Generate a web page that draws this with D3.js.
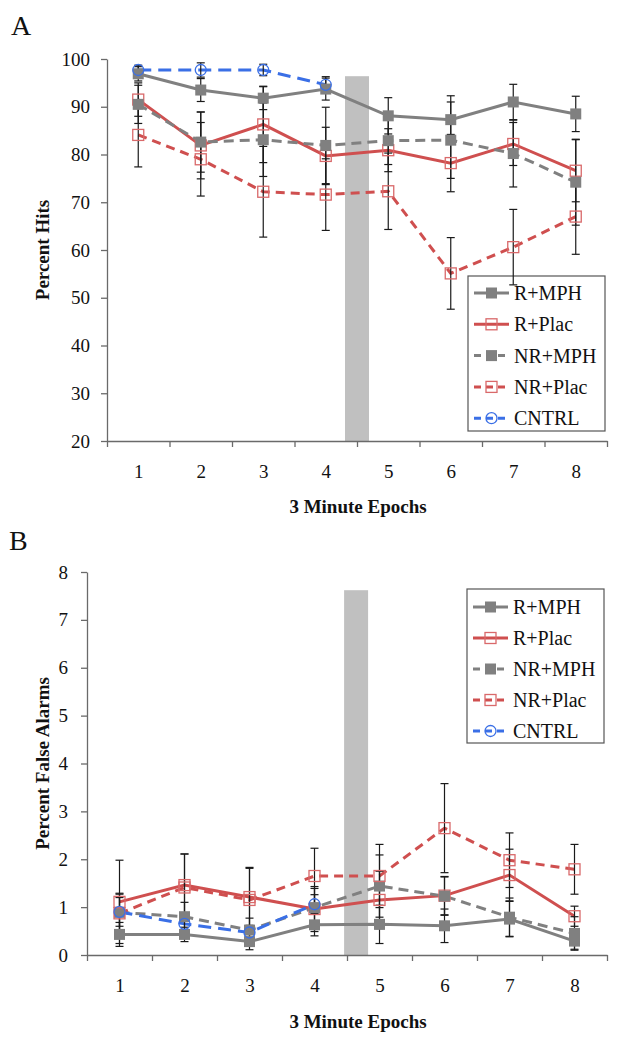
<!DOCTYPE html>
<html><head><meta charset="utf-8">
<script src="https://cdn.jsdelivr.net/npm/d3@7"></script>
<style>
body{margin:0;background:#fff}
text{font-family:"Liberation Serif","Times New Roman",serif;fill:#111}
</style>
</head><body>
<svg id="chart" width="623" height="1049" font-family="Liberation Serif"></svg>
<script>
// ---------- data ----------
const epochs = [1, 2, 3, 4, 5, 6, 7, 8];
const seriesNames = ["R+MPH", "R+Plac", "NR+MPH", "NR+Plac", "CNTRL"];
const hitsTicks = [20, 30, 40, 50, 60, 70, 80, 90, 100];
const faTicks = [0, 1, 2, 3, 4, 5, 6, 7, 8];

// Panel A: Percent Hits
const hitsRMPH     = [96.9, 93.5, 91.8, 93.7, 88.1, 87.3, 91.0, 88.5];
const hitsRMPHErr  = [1.5, 2.4, 2.4, 2.3, 3.8, 5.0, 3.7, 3.7];
const hitsRPlac    = [91.5, 81.9, 86.3, 79.7, 80.9, 78.2, 82.2, 76.6];
const hitsRPlacErr = [3.5, 7.0, 8.0, 6.0, 4.5, 6.0, 4.5, 6.5];
const hitsNRMPH    = [90.5, 82.6, 83.1, 81.9, 82.9, 83.0, 80.2, 74.2];
const hitsNRMPHErr = [4.0, 6.3, 7.7, 8.0, 5.0, 8.0, 7.0, 9.0];
const hitsNRPlac   = [84.1, 79.0, 72.2, 71.6, 72.3, 55.1, 60.6, 67.0];
const hitsNRPlacErr= [6.7, 7.7, 9.5, 7.5, 8.0, 7.5, 7.9, 7.9];
const hitsCNTRL    = [97.7, 97.7, 97.7, 94.6];
const hitsCNTRLErr = [1.0, 1.5, 1.2, 1.7];
const hitsBreak = {pos: 4.5, top: 96.4};

// Panel B: Percent False Alarms
const faRMPH     = [0.43, 0.43, 0.28, 0.63, 0.64, 0.61, 0.75, 0.29];
const faRMPHErr  = [0.25, 0.15, 0.17, 0.23, 0.40, 0.35, 0.37, 0.17];
const faRPlac    = [1.11, 1.46, 1.21, 0.96, 1.15, 1.24, 1.67, 0.81];
const faRPlacErr = [0.87, 0.65, 0.60, 0.47, 0.60, 0.40, 0.54, 0.21];
const faNRMPH    = [0.89, 0.80, 0.52, 0.99, 1.44, 1.23, 0.79, 0.45];
const faNRMPHErr = [0.40, 0.30, 0.25, 0.40, 0.65, 0.40, 0.40, 0.35];
const faNRPlac   = [0.87, 1.41, 1.15, 1.65, 1.65, 2.65, 1.98, 1.79];
const faNRPlacErr= [0.40, 0.70, 0.68, 0.58, 0.66, 0.93, 0.57, 0.52];
const faCNTRL    = [0.90, 0.65, 0.47, 1.06];
const faCNTRLErr = [0.30, 0.15, 0.15, 0.20];
const faBreak = {pos: 4.64, top: 7.62};

// ---------- styles ----------
const GRAY = "#808080", RED = "#cf4f4f", REDM = "#d9696a", BLUE = "#3a6fe6";
const FONT = "Liberation Serif";
const styles = {
  "R+MPH":   {color: GRAY, dash: null,   marker: "filled", mcolor: GRAY},
  "R+Plac":  {color: RED,  dash: null,   marker: "open",   mcolor: REDM},
  "NR+MPH":  {color: GRAY, dash: "10,6", marker: "filled", mcolor: GRAY},
  "NR+Plac": {color: RED,  dash: "9,6",  marker: "open",   mcolor: REDM},
  "CNTRL":   {color: BLUE, dash: "13,7", marker: "circle", mcolor: BLUE}
};

const svg = d3.select("#chart");

function marker(g, kind, col, cx, cy) {
  if (kind === "filled") {
    g.append("rect").attr("x", cx - 5.5).attr("y", cy - 5.5).attr("width", 11).attr("height", 11)
      .attr("fill", col);
  } else if (kind === "open") {
    g.append("rect").attr("x", cx - 5.5).attr("y", cy - 5.5).attr("width", 11).attr("height", 11)
      .attr("fill", "none").attr("stroke", col).attr("stroke-width", 1.3);
  } else {
    g.append("circle").attr("cx", cx).attr("cy", cy).attr("r", 5.5)
      .attr("fill", "none").attr("stroke", col).attr("stroke-width", 1.3);
  }
}

function panel(cfg) {
  const x = d3.scaleLinear().domain([0.5, 8.5]).range([cfg.left, 607]);
  const y = d3.scaleLinear().domain(cfg.domain).range([cfg.bottom, cfg.top]);
  const g = svg.append("g");

  // panel letter
  svg.append("text").attr("x", cfg.letterX).attr("y", cfg.letterY).attr("font-size", 28)
    .attr("font-family", FONT).text(cfg.letter);

  // legend (behind data)
  const lg = g.append("g");
  lg.append("rect").attr("x", cfg.legend.x).attr("y", cfg.legend.y).attr("width", cfg.legend.w).attr("height", cfg.legend.h)
    .attr("fill", "#fff").attr("stroke", "#555").attr("stroke-width", 1.2);
  seriesNames.forEach((name, i) => {
    const st = styles[name];
    const cy = cfg.legend.y + cfg.legend.first + i * cfg.legend.step;
    const x0 = cfg.legend.x + 6, x1 = cfg.legend.x + 41;
    lg.append("line").attr("x1", x0).attr("x2", x1).attr("y1", cy).attr("y2", cy)
      .attr("stroke", st.color).attr("stroke-width", 3).attr("stroke-dasharray", st.dash ? "7,5" : null);
    marker(lg, st.marker, st.mcolor, (x0 + x1) / 2, cy);
    lg.append("text").attr("x", x1 + 5).attr("y", cy).attr("dy", "0.35em").attr("font-size", 20)
      .attr("font-family", FONT).text(name);
  });

  // break bar
  g.append("rect").attr("x", x(cfg.brk.pos) - 12).attr("width", 24)
    .attr("y", y(cfg.brk.top)).attr("height", y(cfg.domain[0]) - y(cfg.brk.top))
    .attr("fill", "#c0c0c0");

  // axes
  const ya = g.append("g").attr("transform", `translate(${cfg.left},0)`)
    .call(d3.axisLeft(y).tickValues(cfg.ticks).tickSize(6).tickPadding(cfg.yPad).tickSizeOuter(0));
  ya.attr("font-family", FONT).attr("font-size", 19);
  ya.selectAll("text").attr("fill", "#111");
  const xa = g.append("g").attr("transform", `translate(0,${cfg.bottom})`)
    .call(d3.axisBottom(x).tickValues(d3.range(0.5, 9, 1)).tickSize(6).tickFormat("").tickSizeOuter(0));
  const xl = g.append("g").attr("transform", `translate(0,${cfg.bottom})`)
    .call(d3.axisBottom(x).tickValues(epochs).tickSize(0).tickPadding(24).tickFormat(d3.format("d")));
  xl.select(".domain").remove();
  xl.attr("font-family", FONT).attr("font-size", 19);
  xl.selectAll("text").attr("fill", "#111");
  [ya, xa].forEach(a => { a.selectAll("path,line").attr("stroke", "#6a6a6a").attr("stroke-width", 1.3); });

  // axis titles
  svg.append("text").attr("x", 358).attr("y", cfg.xTitleY).attr("text-anchor", "middle")
    .attr("font-family", FONT).attr("font-size", 19).attr("font-weight", "bold").text("3 Minute Epochs");
  svg.append("text").attr("transform", `translate(${cfg.yTitleX},${(cfg.top + cfg.bottom) / 2}) rotate(-90)`)
    .attr("text-anchor", "middle").attr("dy", "0.35em")
    .attr("font-family", FONT).attr("font-size", 19).attr("font-weight", "bold").text(cfg.yTitle);

  // series
  const line = d3.line().x((d, i) => x(epochs[i])).y(d => y(d));
  cfg.series.forEach(s => {
    const st = styles[s.name];
    g.append("path").datum(s.values).attr("d", line).attr("fill", "none")
      .attr("stroke", st.color).attr("stroke-width", 3).attr("stroke-dasharray", st.dash);
  });
  cfg.series.forEach(s => {
    s.values.forEach((v, i) => {
      const cx = x(epochs[i]), lo = y(v - s.err[i]), hi = y(v + s.err[i]);
      g.append("line").attr("x1", cx).attr("x2", cx).attr("y1", lo).attr("y2", hi).attr("stroke", "#1a1a1a").attr("stroke-width", 1.2);
      [lo, hi].forEach(yy => g.append("line").attr("x1", cx - 4).attr("x2", cx + 4).attr("y1", yy).attr("y2", yy)
        .attr("stroke", "#1a1a1a").attr("stroke-width", 1.2));
    });
  });
  cfg.series.forEach(s => {
    const st = styles[s.name];
    s.values.forEach((v, i) => marker(g, st.marker, st.mcolor, x(epochs[i]), y(v)));
  });
}

panel({
  letter: "A", letterX: 11, letterY: 35,
  left: 107, top: 59, bottom: 441, domain: [20, 100], ticks: hitsTicks, yPad: 11,
  brk: hitsBreak, yTitle: "Percent Hits", yTitleX: 42, xTitleY: 513,
  legend: {x: 468, y: 276, w: 137, h: 155, first: 17, step: 31.3},
  series: [
    {name: "R+MPH", values: hitsRMPH, err: hitsRMPHErr},
    {name: "R+Plac", values: hitsRPlac, err: hitsRPlacErr},
    {name: "NR+MPH", values: hitsNRMPH, err: hitsNRMPHErr},
    {name: "NR+Plac", values: hitsNRPlac, err: hitsNRPlacErr},
    {name: "CNTRL", values: hitsCNTRL, err: hitsCNTRLErr}
  ]
});

panel({
  letter: "B", letterX: 9, letterY: 550,
  left: 87, top: 572, bottom: 955, domain: [0, 8], ticks: faTicks, yPad: 13,
  brk: faBreak, yTitle: "Percent False Alarms", yTitleX: 42, xTitleY: 1028,
  legend: {x: 467, y: 589, w: 137, h: 154, first: 18, step: 31},
  series: [
    {name: "R+MPH", values: faRMPH, err: faRMPHErr},
    {name: "R+Plac", values: faRPlac, err: faRPlacErr},
    {name: "NR+MPH", values: faNRMPH, err: faNRMPHErr},
    {name: "NR+Plac", values: faNRPlac, err: faNRPlacErr},
    {name: "CNTRL", values: faCNTRL, err: faCNTRLErr}
  ]
});
</script>
</body></html>
